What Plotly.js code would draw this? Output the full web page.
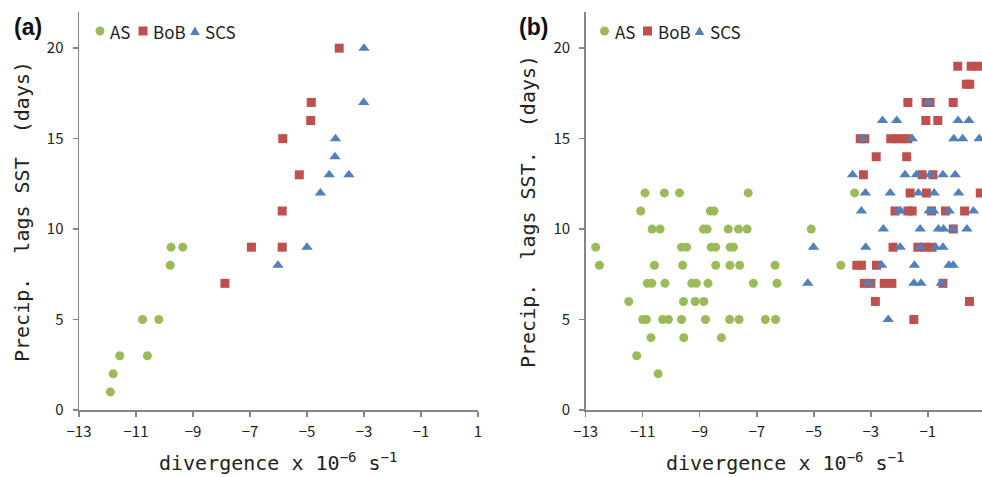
<!DOCTYPE html>
<html><head><meta charset="utf-8">
<script src="https://cdn.plot.ly/plotly-3.0.1.min.js"></script>
<style>body{margin:0;padding:0;background:#fff}#chart{width:982px;height:477px}</style>
</head><body><div id="chart"></div>
<script>
// ---- Panel (a) data ----
const asAX  = [-11.9, -11.8, -11.57, -10.6, -10.77, -10.2, -9.8, -9.77, -9.36];
const asAY  = [1, 2, 3, 3, 5, 5, 8, 9, 9];
const bobAX = [-7.88, -6.95, -5.87, -5.87, -5.27, -5.85, -4.87, -4.85, -3.87];
const bobAY = [7, 9, 9, 11, 13, 15, 16, 17, 20];
const scsAX = [-6.02, -5.0, -4.53, -4.22, -3.53, -4.02, -4.0, -3.01, -3.0];
const scsAY = [8, 9, 12, 13, 13, 14, 15, 17, 20];

// ---- Panel (b) data ----
const asBX = [-10.92, -10.24, -9.71, -7.30, -3.57,
  -11.07, -8.63, -8.5,
  -10.67, -10.39, -8.87, -8.74, -8.0, -7.64, -7.34, -5.09,
  -12.65, -9.64, -9.46, -8.6, -8.44, -7.93, -7.82,
  -12.52, -10.59, -9.6, -8.44, -7.94, -7.6, -6.36, -4.05,
  -10.84, -10.68, -10.22, -9.28, -9.12, -8.71, -7.12, -6.29,
  -11.49, -9.57, -9.16, -8.86,
  -11.0, -10.87, -10.3, -10.1, -9.64, -8.8, -7.95, -7.62, -6.7, -6.34,
  -10.71, -9.56, -8.24,
  -11.21,
  -10.46];
const asBY = [12, 12, 12, 12, 12,
  11, 11, 11,
  10, 10, 10, 10, 10, 10, 10, 10,
  9, 9, 9, 9, 9, 9, 9,
  8, 8, 8, 8, 8, 8, 8, 8,
  7, 7, 7, 7, 7, 7, 7, 7,
  6, 6, 6, 6,
  5, 5, 5, 5, 5, 5, 5, 5, 5, 5,
  4, 4, 4,
  3,
  2];
const bobBX = [0.05, 0.52, 0.78,
  0.35, 0.47,
  -1.7, -1.06, -0.92, -0.11,
  -1.07, -0.65,
  -3.37, -3.21, -2.3, -2.1, -1.9, -1.7,
  -2.81, -1.74,
  -3.26, -1.2, -0.82,
  -1.62, -1.05, 0.84,
  -2.15, -1.7, -1.55, -0.87, -0.38, 0.29,
  -0.11,
  -2.22, -1.35, -1.1, -0.85,
  -3.49, -3.33, -2.8,
  -3.23, -3.0, -2.53, -2.26, -0.47,
  -2.84, 0.46,
  -1.49];
const bobBY = [19, 19, 19,
  18, 18,
  17, 17, 17, 17,
  16, 16,
  15, 15, 15, 15, 15, 15,
  14, 14,
  13, 13, 13,
  12, 12, 12,
  11, 11, 11, 11, 11, 11,
  10,
  9, 9, 9, 9,
  8, 8, 8,
  7, 7, 7, 7, 7,
  6, 6,
  5];
const scsBX = [-0.99,
  -2.59, -2.09, 0.06, 0.44,
  -3.27, -1.55, -0.09, 0.22, 0.8,
  -3.64, -1.8, -1.4, -0.92, -0.47, -0.04,
  -3.19, -2.32, -1.33, -0.78, 0.08,
  -3.33, -2.02, -1.95, -0.95, -0.8, -0.25, 0.6,
  -2.56, -1.27, -0.63, -0.45, -0.12, 0.37,
  -5.01, -3.18, -1.97, -1.25, -0.73, -0.47,
  -2.62, -1.47, -0.26, -0.11,
  -5.21, -3.08, -1.49, -1.24, -0.53,
  -2.39];
const scsBY = [17,
  16, 16, 16, 16,
  15, 15, 15, 15, 15,
  13, 13, 13, 13, 13, 13,
  12, 12, 12, 12, 12,
  11, 11, 11, 11, 11, 11, 11,
  10, 10, 10, 10, 10, 10,
  9, 9, 9, 9, 9, 9,
  8, 8, 8, 8,
  7, 7, 7, 7, 7,
  5];

const seriesNames = ['AS', 'BoB', 'SCS'];
const xTicks = [-13, -11, -9, -7, -5, -3, -1, 1];
const yTicks = [0, 5, 10, 15, 20];

const cGreen = '#9BBB59', cRed = '#C0504D', cBlue = '#4F81BD';
const symStyle = {
  AS:  {symbol: 'circle', size: 9, color: cGreen},
  BoB: {symbol: 'square', size: 9, color: cRed},
  SCS: {symbol: 'triangle-up', size: 10, color: cBlue}
};
function tr(name, x, y, xa, ya) {
  const s = symStyle[name];
  return {type: 'scatter', mode: 'markers', name: name, x: x, y: y,
    xaxis: xa, yaxis: ya, showlegend: false, cliponaxis: true,
    marker: {symbol: s.symbol, size: s.size, color: s.color, line: {width: 0}}};
}
const data = [
  tr('AS', asAX, asAY, 'x', 'y'),
  tr('BoB', bobAX, bobAY, 'x', 'y'),
  tr('SCS', scsAX, scsAY, 'x', 'y'),
  tr('AS', asBX, asBY, 'x2', 'y2'),
  tr('BoB', bobBX, bobBY, 'x2', 'y2'),
  tr('SCS', scsBX, scsBY, 'x2', 'y2')
];

const W = 982, H = 477;
const px = v => v / W, py = v => 1 - v / H;
const tickFont = {family: 'Noto Sans CJK JP, Liberation Sans, sans-serif', size: 15, color: '#222'};
function xax(domain, range) {
  return {domain: domain, range: range, tickvals: xTicks, ticktext: xTicks.map(v => v < 0 ? '\u2212' + Math.abs(v) : String(v)),
    showline: true, linecolor: '#868686', linewidth: 1.5, ticks: 'outside', ticklen: 5, tickwidth: 1.5,
    tickcolor: '#868686', showgrid: false, zeroline: false, tickfont: tickFont, ticklabelstandoff: 2, fixedrange: true};
}
function yax(domain, anchor) {
  return {domain: domain, range: [0, 22], tickvals: yTicks, anchor: anchor,
    showline: true, linecolor: '#868686', linewidth: 1.5, ticks: 'outside', ticklen: 5, tickwidth: 1.5,
    tickcolor: '#868686', showgrid: false, zeroline: false, tickfont: tickFont, ticklabelstandoff: 6, fixedrange: true};
}
const yDom = [(H - 410) / H, (H - 12) / H];
const xDomA = [79 / W, 478 / W];
const xDomB = [585.7 / W, 1];
const legFont = {family: 'Noto Sans CJK JP, Liberation Sans, sans-serif', size: 17, color: '#222'};
const titleFont = {family: 'DejaVu Sans Mono, monospace', size: 20, color: '#222'};
const nb = s => s.replace(/ /g, '\u00A0');

// legend built from shapes + text annotations (positions in px)
const legendItems = [
  {x0: 100, name: seriesNames[0], tx: 108},
  {x0: 143, name: seriesNames[1], tx: 151},
  {x0: 195, name: seriesNames[2], tx: 203}
];
const legOffsets = [0, 504.5];
const shapes = [], annotations = [];
legOffsets.forEach(off => {
  legendItems.forEach(it => {
    const cx = it.x0 + off, cy = 31;
    const st = symStyle[it.name];
    if (st.symbol === 'circle') {
      shapes.push({type: 'circle', xref: 'paper', yref: 'paper', x0: px(cx - 4.5), x1: px(cx + 4.5), y0: py(cy + 4.5), y1: py(cy - 4.5),
        fillcolor: st.color, line: {width: 0}});
    } else if (st.symbol === 'square') {
      shapes.push({type: 'rect', xref: 'paper', yref: 'paper', x0: px(cx - 4.5), x1: px(cx + 4.5), y0: py(cy + 4.5), y1: py(cy - 4.5),
        fillcolor: st.color, line: {width: 0}});
    } else {
      shapes.push({type: 'path', xref: 'paper', yref: 'paper',
        path: `M ${px(cx - 4.8)} ${py(cy + 4)} L ${px(cx + 4.8)} ${py(cy + 4)} L ${px(cx)} ${py(cy - 4.5)} Z`,
        fillcolor: st.color, line: {width: 0}});
    }
    annotations.push({text: it.name, x: px(it.tx + off), y: py(cy), xref: 'paper', yref: 'paper',
      xanchor: 'left', yanchor: 'middle', showarrow: false, font: legFont});
  });
});

annotations.push(
  {text: '<b>(a)</b>', x: px(12), y: py(27), xref: 'paper', yref: 'paper', xanchor: 'left', yanchor: 'middle',
    showarrow: false, font: {family: 'Liberation Sans, Arial, sans-serif', size: 23, color: '#111'}},
  {text: '<b>(b)</b>', x: px(517), y: py(27), xref: 'paper', yref: 'paper', xanchor: 'left', yanchor: 'middle',
    showarrow: false, font: {family: 'Liberation Sans, Arial, sans-serif', size: 23, color: '#111'}},
  {text: nb('Precip.  lags SST  (days)'), textangle: -90, x: px(22), y: py(212), xref: 'paper', yref: 'paper',
    xanchor: 'center', yanchor: 'middle', showarrow: false, font: titleFont},
  {text: nb('Precip.  lags SST.  (days)'), textangle: -90, x: px(528), y: py(212), xref: 'paper', yref: 'paper',
    xanchor: 'center', yanchor: 'middle', showarrow: false, font: titleFont},
  {text: nb('divergence x 10<sup>\u22126</sup> s<sup>\u22121</sup>'), x: px(278), y: py(462), xref: 'paper', yref: 'paper',
    xanchor: 'center', yanchor: 'middle', showarrow: false, font: titleFont},
  {text: nb('divergence x 10<sup>\u22126</sup> s<sup>\u22121</sup>'), x: px(785), y: py(462), xref: 'paper', yref: 'paper',
    xanchor: 'center', yanchor: 'middle', showarrow: false, font: titleFont}
);

const layout = {
  width: W, height: H, margin: {l: 0, r: 0, t: 0, b: 0},
  paper_bgcolor: '#fff', plot_bgcolor: '#fff', showlegend: false,
  xaxis: Object.assign(xax(xDomA, [-13, 1]), {anchor: 'y'}),
  yaxis: yax(yDom, 'x'),
  xaxis2: Object.assign(xax(xDomB, [-13, 0.9]), {anchor: 'y2'}),
  yaxis2: yax(yDom, 'x2'),
  shapes: shapes,
  annotations: annotations
};
Plotly.newPlot('chart', data, layout, {staticPlot: true, displayModeBar: false});
</script></body></html>
